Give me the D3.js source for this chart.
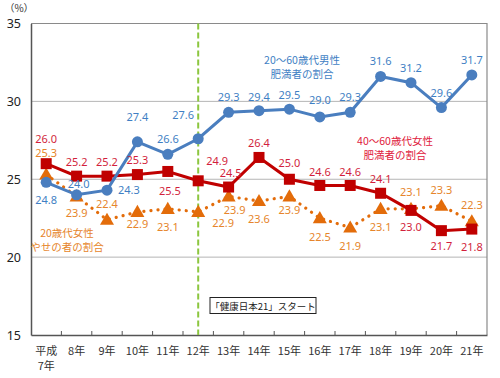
<!DOCTYPE html>
<html>
<head>
<meta charset="utf-8">
<script src="https://cdn.jsdelivr.net/npm/d3@7"></script>
<style>
  body { margin: 0; background: #fff; }
  svg { font-family: "Noto Sans CJK JP", "Noto Sans", sans-serif; }
</style>
</head>
<body>
<div id="display"></div>
<script>
const years = ["平成7年", "8年", "9年", "10年", "11年", "12年", "13年", "14年", "15年", "16年", "17年", "18年", "19年", "20年", "21年"]
const maleObese = [24.8, 24.0, 24.3, 27.4, 26.6, 27.6, 29.3, 29.4, 29.5, 29.0, 29.3, 31.6, 31.2, 29.6, 31.7]
const femaleObese = [26.0, 25.2, 25.2, 25.3, 25.5, 24.9, 24.5, 26.4, 25.0, 24.6, 24.6, 24.1, 23.0, 21.7, 21.8]
const femaleThin = [25.3, 23.9, 22.4, 22.9, 23.1, 22.9, 23.9, 23.6, 23.9, 22.5, 21.9, 23.1, 23.1, 23.3, 22.3]
const yTicks = [15, 20, 25, 30, 35]
const startYear = "12年"

// label offsets (dx, dy) from each marker centre to the label centre
const maleLabelPos = [[0, 18], [2, -11], [16, 0], [0, -25], [0, -15], [-15, -24], [0, -15], [0, -14], [0, -14], [0, -17], [0, -15], [0, -15], [0, -15], [0, -14], [0, -15]]
const femaleLabelPos = [[0, -25], [0, -14], [0, -14], [0, -14], [2, 20], [13, -20], [2, -14], [0, -14], [0, -16], [0, -13], [0, -13], [0, -14], [0, 17], [0, 16], [0, 18]]
const thinLabelPos = [[0, -21], [0, 17], [0, -16], [0, 12], [0, 18], [19, 11], [6, 14], [0, 18], [0, 14], [0, 19], [0, 19], [0, 18], [0, -17], [0, -16], [0, -16]]

const width = 500, height = 378
const plotLeft = 31, plotRight = 487, plotTop = 23.5, plotBottom = 335

const svg = d3.select("#display").append("svg")
  .attr("width", width)
  .attr("height", height)

const x = d3.scaleBand().domain(years).range([plotLeft, plotRight])
const cx = d => x(d) + x.bandwidth() / 2
const y = d3.scaleLinear().domain([15, 35]).range([plotBottom, plotTop])

// grid lines
svg.selectAll("line.grid")
  .data([20, 25, 30])
  .enter()
  .append("line")
    .attr("x1", plotLeft).attr("x2", plotRight)
    .attr("y1", d => y(d)).attr("y2", d => y(d))
    .attr("stroke", "#b5b5b5")
    .attr("stroke-width", 1)

// frame top / right
svg.append("path")
  .attr("d", `M${plotLeft},${y(35)}H${plotRight}V${plotBottom}`)
  .attr("fill", "none")
  .attr("stroke", "#8a8a8a")
  .attr("stroke-width", 1.2)

// y axis
const yAxis = svg.append("g")
  .attr("transform", `translate(${plotLeft},0)`)
  .call(d3.axisLeft(y).tickValues(yTicks).tickSize(0).tickPadding(10))
yAxis.select(".domain").attr("stroke", "#555").attr("stroke-width", 1.5)
yAxis.selectAll("text").attr("font-size", 12.5).attr("fill", "#222")
  .attr("font-family", "\"Noto Sans\", sans-serif")

svg.append("text")
  .attr("x", 19).attr("y", 12)
  .attr("text-anchor", "middle")
  .attr("font-size", 10)
  .attr("fill", "#333")
  .text("（%）")

// x axis
const xAxis = svg.append("g")
  .attr("transform", `translate(0,${plotBottom})`)
  .call(d3.axisBottom(x).tickSize(0).tickPadding(0).tickFormat(""))
xAxis.select(".domain").attr("stroke", "#555").attr("stroke-width", 1.5)

svg.selectAll("line.xtick")
  .data(years.slice(1))
  .enter()
  .append("line")
    .attr("x1", d => x(d)).attr("x2", d => x(d))
    .attr("y1", plotBottom).attr("y2", plotBottom - 4)
    .attr("stroke", "#555")
    .attr("stroke-width", 1)

const xLabels = svg.selectAll("text.xlab")
  .data(years)
  .enter()
  .append("text")
    .attr("text-anchor", "middle")
    .attr("font-size", 11)
    .attr("fill", "#333")
    .attr("transform", d => `translate(${cx(d)},${plotBottom + 20})`)
xLabels.each(function(d) {
  const el = d3.select(this)
  if (d.startsWith("平成")) {
    el.append("tspan").attr("x", 0).attr("y", 0).text("平成")
    el.append("tspan").attr("x", 0).attr("y", 15).text(d.slice(2))
  } else {
    el.append("tspan").attr("x", 0).attr("y", 0).text(d)
  }
})

// 健康日本21 start line
svg.append("line")
  .attr("x1", cx(startYear)).attr("x2", cx(startYear))
  .attr("y1", y(35)).attr("y2", plotBottom)
  .attr("stroke", "#8cc63f")
  .attr("stroke-width", 2)
  .attr("stroke-dasharray", "6,3")

svg.append("rect")
  .attr("x", 210).attr("y", 297.5)
  .attr("width", 106).attr("height", 16)
  .attr("fill", "#fff")
  .attr("stroke", "#222")
  .attr("stroke-width", 1)
svg.append("text")
  .attr("x", 263).attr("y", 309.5)
  .attr("text-anchor", "middle")
  .attr("font-size", 9.5)
  .attr("fill", "#222")
  .text("「健康日本21」スタート")

const line = d3.line().x((d, i) => cx(years[i])).y(d => y(d))

const drawLabels = (values, pos, color) => {
  svg.append("g").selectAll("text")
    .data(values)
    .enter()
    .append("text")
      .attr("x", (d, i) => cx(years[i]) + pos[i][0])
      .attr("y", (d, i) => y(d) + pos[i][1])
      .attr("dy", "0.35em")
      .attr("text-anchor", (d, i) => pos[i][0] > 10 ? "start" : "middle")
      .attr("dx", (d, i) => pos[i][0] > 10 ? -5 : 0)
      .attr("font-size", 11)
      .attr("fill", color)
      .attr("font-family", "\"Noto Sans\", sans-serif")
      .text(d => d.toFixed(1))
}

// thin women (dotted, triangles)
svg.append("path")
  .datum(femaleThin)
  .attr("d", line)
  .attr("fill", "none")
  .attr("stroke", "#e36c0a")
  .attr("stroke-width", 3.2)
  .attr("stroke-linecap", "round")
  .attr("stroke-dasharray", "0.1,7")
svg.append("g").selectAll("path")
  .data(femaleThin)
  .enter()
  .append("path")
    .attr("d", d3.symbol().type(d3.symbolTriangle).size(85))
    .attr("transform", (d, i) => `translate(${cx(years[i])},${y(d) + 1})`)
    .attr("fill", "#e36c0a")

// obese women (red squares)
svg.append("path")
  .datum(femaleObese)
  .attr("d", line)
  .attr("fill", "none")
  .attr("stroke", "#c00000")
  .attr("stroke-width", 3)
svg.append("g").selectAll("rect")
  .data(femaleObese)
  .enter()
  .append("rect")
    .attr("x", (d, i) => cx(years[i]) - 5.5)
    .attr("y", d => y(d) - 5.5)
    .attr("width", 11).attr("height", 11)
    .attr("fill", "#c00000")

// obese men (blue circles)
svg.append("path")
  .datum(maleObese)
  .attr("d", line)
  .attr("fill", "none")
  .attr("stroke", "#4a7ebf")
  .attr("stroke-width", 3)
svg.append("g").selectAll("circle")
  .data(maleObese)
  .enter()
  .append("circle")
    .attr("cx", (d, i) => cx(years[i]))
    .attr("cy", d => y(d))
    .attr("r", 5.5)
    .attr("fill", "#4a7ebf")

drawLabels(maleObese, maleLabelPos, "#3f7fc4")
drawLabels(femaleObese, femaleLabelPos, "#d21f3c")
drawLabels(femaleThin, thinLabelPos, "#e6852b")

// series notes
const note = (cxp, cyp, lines, color) => {
  svg.append("text")
    .attr("text-anchor", "middle")
    .attr("font-size", 10.5)
    .attr("fill", color)
    .selectAll("tspan")
    .data(lines)
    .enter()
    .append("tspan")
      .attr("x", cxp)
      .attr("y", (d, i) => cyp + i * 14)
      .text(d => d)
}
note(302, 64, ["20～60歳代男性", "肥満者の割合"], "#3f7fc4")
note(395, 145, ["40～60歳代女性", "肥満者の割合"], "#e0203c")
note(67, 237, ["20歳代女性", "やせの者の割合"], "#e6852b")
</script>
</body>
</html>
